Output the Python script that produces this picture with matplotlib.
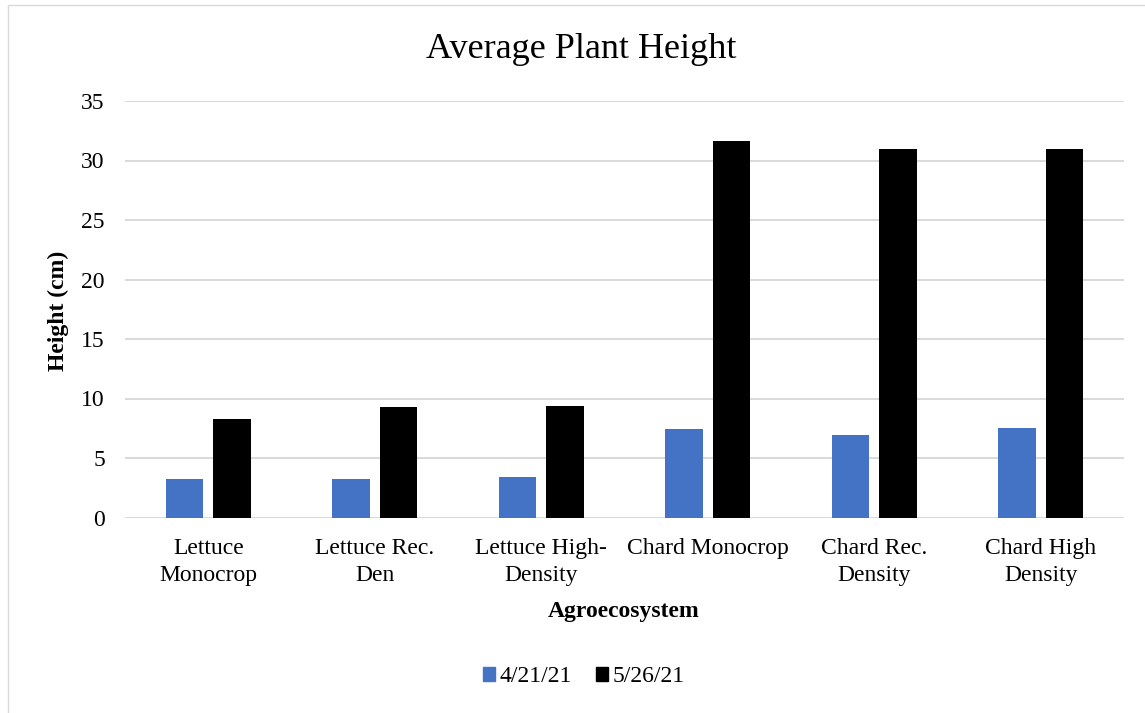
import numpy as np
import matplotlib
matplotlib.use("Agg")
import matplotlib.pyplot as plt
from matplotlib.patches import Patch, Rectangle

plt.rcParams['font.family'] = ['Liberation Serif', 'DejaVu Serif']

#%% ---- DATA
categories = ["Lettuce\nMonocrop", "Lettuce Rec.\nDen", "Lettuce High-\nDensity",
              "Chard Monocrop", "Chard Rec.\nDensity", "Chard High\nDensity"]
dates = ["4/21/21", "5/26/21"]
height_apr = [3.2, 3.2, 3.4, 7.4, 6.9, 7.5]
height_may = [8.3, 9.3, 9.4, 31.6, 31.0, 31.0]
yticks = [0, 5, 10, 15, 20, 25, 30, 35]

colors = ["#4472C4", "#000000"]
grid_col = "#D9D9D9"
fs = 17

#%% ---- PLOT
W, H = 1145, 713
fig = plt.figure(figsize=(W / 100, H / 100), dpi=100)
ax = fig.add_axes([125 / W, 1 - 517.5 / H, (1124 - 125) / W, (517.5 - 101) / H])

x = np.arange(len(categories))
bw = 0.224
off = 0.142
ax.bar(x - off, height_apr, width=bw, color=colors[0], zorder=3)
ax.bar(x + off, height_may, width=bw, color=colors[1], zorder=3)

ax.set_xlim(-0.5, len(categories) - 0.5)
ax.set_ylim(0, 35)
ax.set_yticks(yticks)
ax.yaxis.grid(True, color=grid_col, lw=1.4, zorder=0)
ax.set_axisbelow(True)
for s in ax.spines.values():
    s.set_visible(False)

ax.set_xticks(x)
ax.set_xticklabels(categories, fontsize=fs, linespacing=1.33)
ax.tick_params(axis='x', length=0, pad=15)
ax.tick_params(axis='y', length=0, pad=14.5, labelsize=fs)

# titles and axis labels placed in figure pixels
fig.text(581.5 / W, 1 - 49 / H, "Average Plant Height", fontsize=26,
         ha='center', va='center')
fig.text(623.5 / W, 1 - 611.5 / H, "Agroecosystem", fontsize=fs,
         fontweight='bold', ha='center', va='center')
fig.text(58 / W, 1 - 311 / H, "Height (cm)", fontsize=fs, fontweight='bold',
         rotation=90, ha='center', va='center')

handles = [Patch(color=c, label=d) for c, d in zip(colors, dates)]
fig.legend(handles=handles, loc='center', bbox_to_anchor=(584 / W, 1 - 677 / H),
           ncol=2, frameon=False, fontsize=fs, handlelength=0.5, handleheight=0.5,
           handletextpad=0.2, columnspacing=1.0, borderpad=0)

# light chart-area border
fig.patches.append(Rectangle((8 / W, -0.1), 1.2, 1.1 - 5 / H, transform=fig.transFigure,
                             fill=False, edgecolor=grid_col, lw=1.0))

fig.savefig("out.png", dpi=100)
